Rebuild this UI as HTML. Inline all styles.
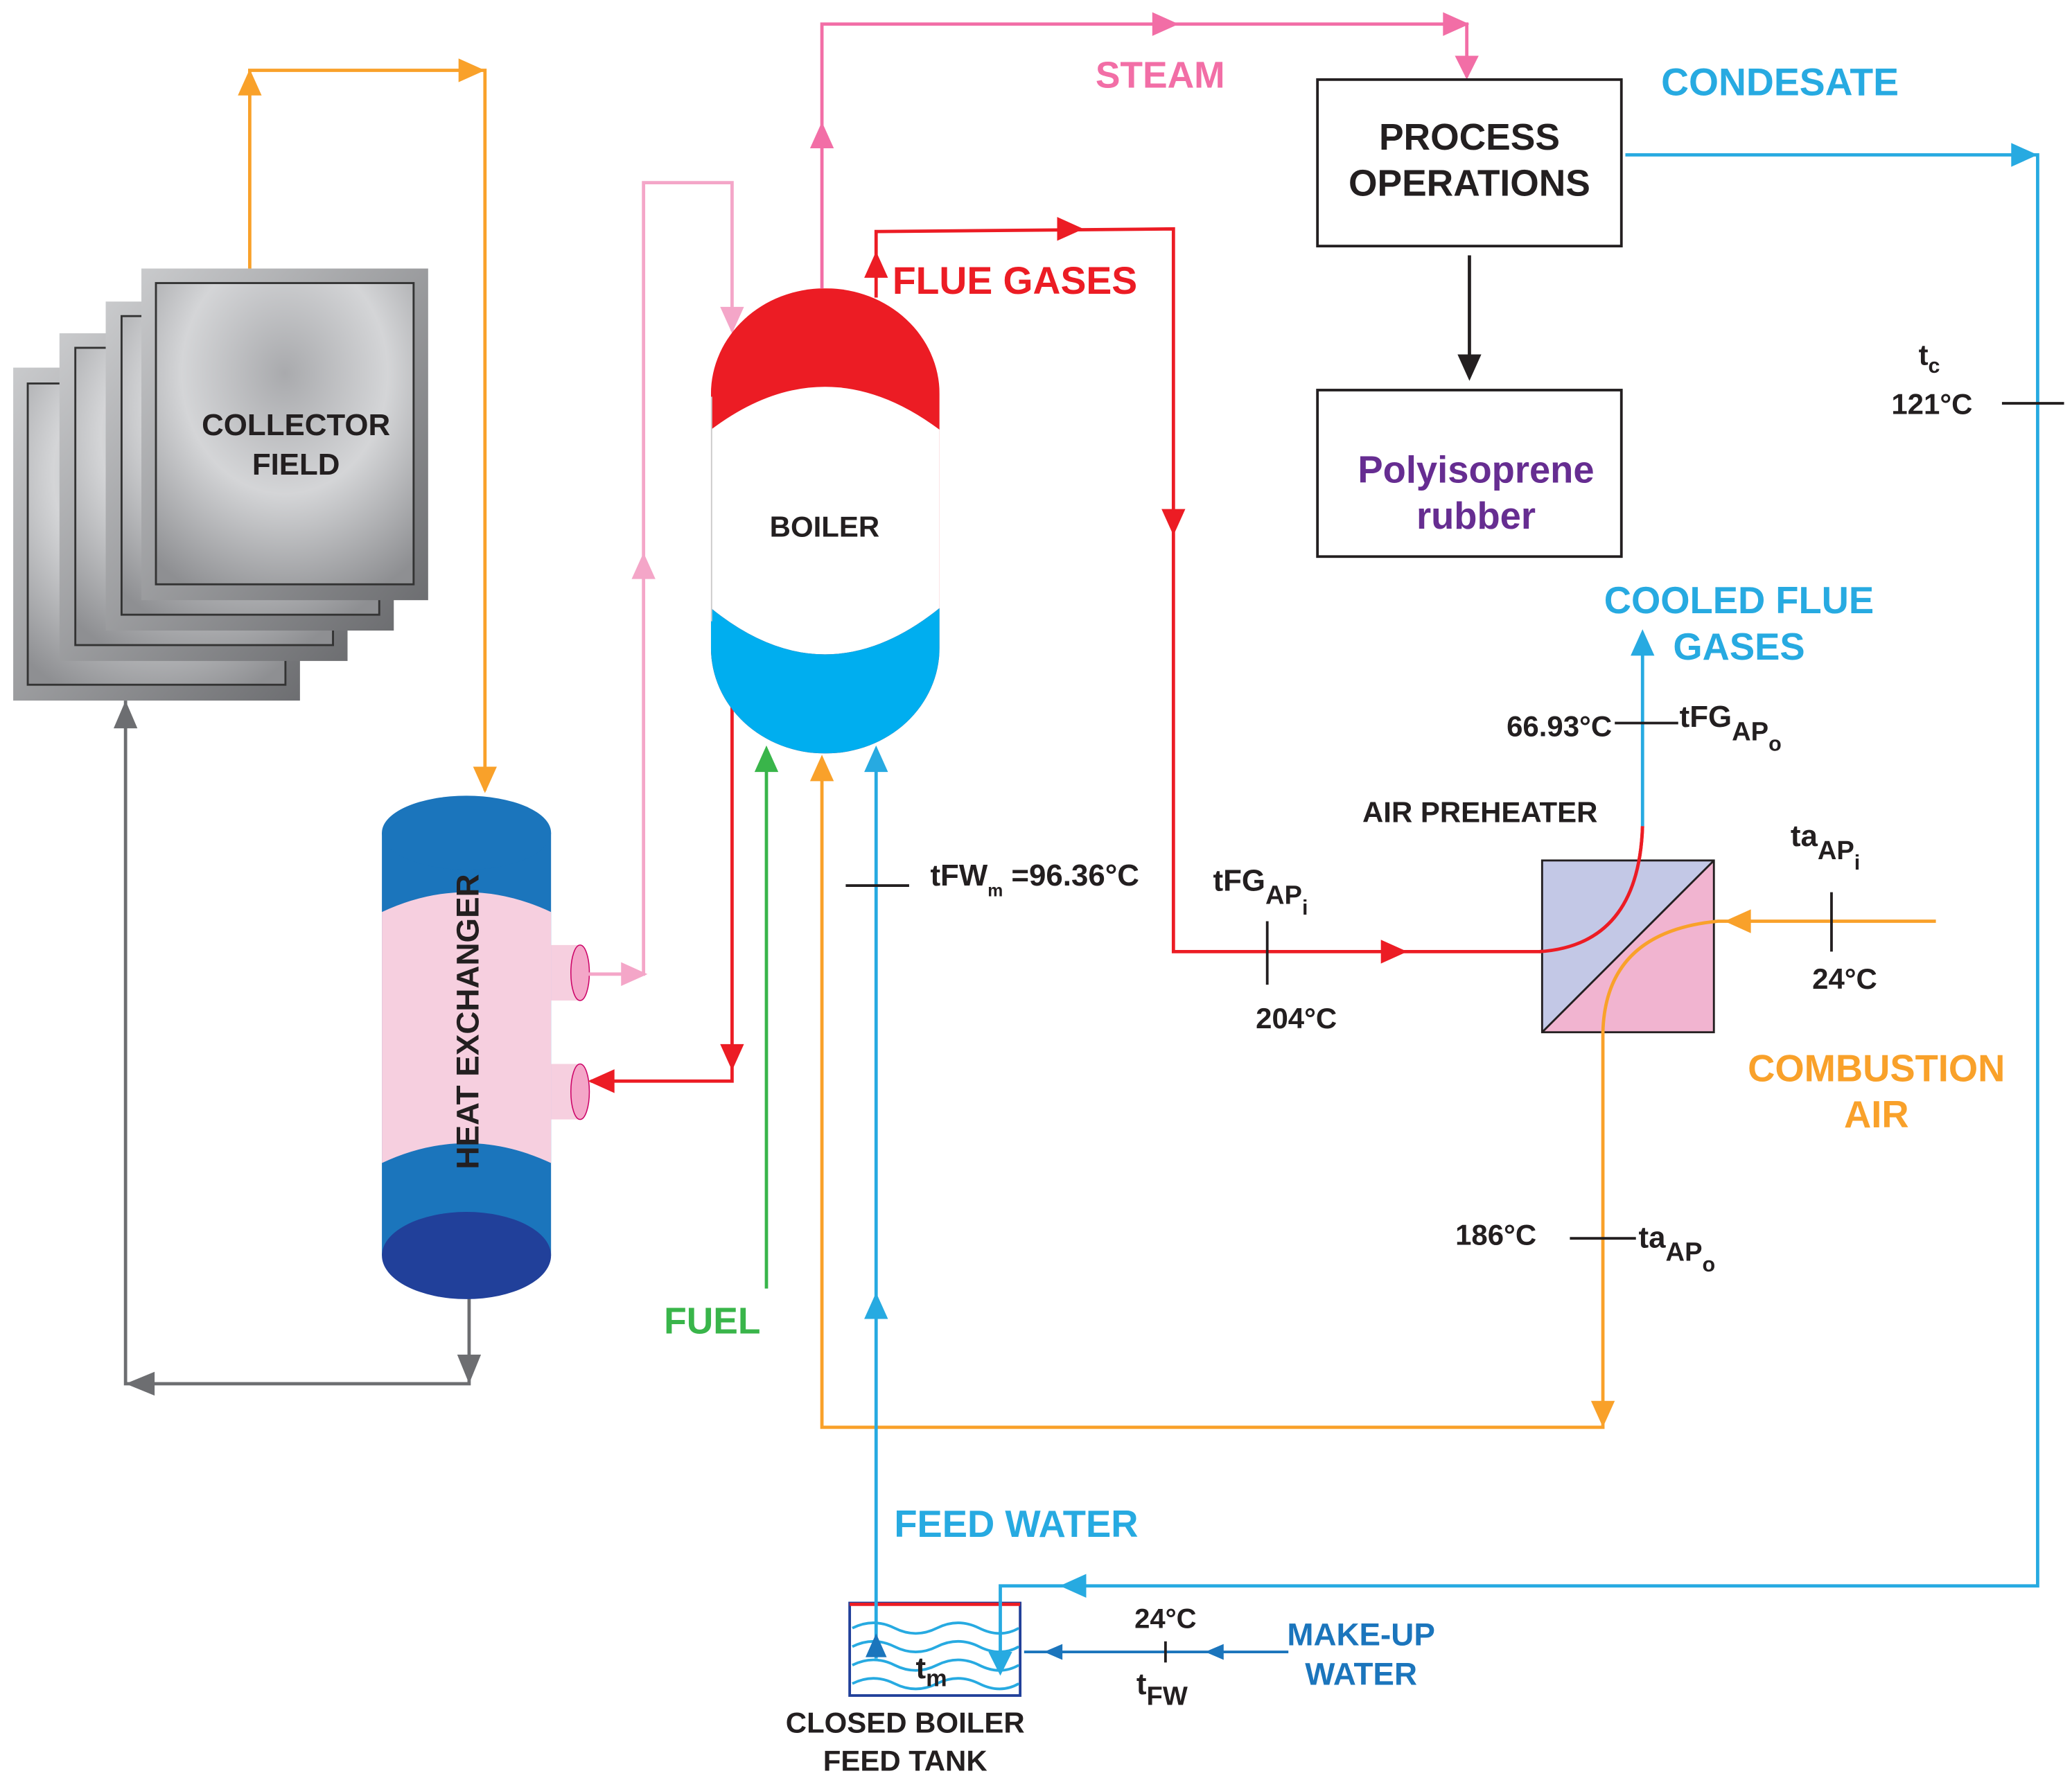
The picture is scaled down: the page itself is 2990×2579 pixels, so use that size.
<!DOCTYPE html>
<html><head><meta charset="utf-8"><style>
html,body{margin:0;padding:0;background:#fff}
svg{display:block}
text{font-family:"Liberation Sans",sans-serif;font-weight:bold}
</style></head><body>
<svg width="2990" height="2579" viewBox="0 0 1568 1352" xmlns="http://www.w3.org/2000/svg">
<defs>
<radialGradient id="pl" cx="0.5" cy="0.3" r="0.8">
<stop offset="0" stop-color="#a9aaad"/><stop offset="0.5" stop-color="#d4d5d7"/><stop offset="1" stop-color="#8e8f92"/></radialGradient>
<linearGradient id="fr" x1="0" y1="0" x2="1" y2="1"><stop offset="0" stop-color="#c9cacc"/><stop offset="1" stop-color="#6d6e71"/></linearGradient>
</defs>
<rect width="1568" height="1352" fill="#fff"/>

<g stroke="#333" stroke-width="1.5">
<rect x="10" y="278" width="217" height="252" fill="url(#fr)" stroke="none"/>
<rect x="21" y="290" width="195" height="228" fill="url(#pl)"/>
<rect x="45" y="252" width="218" height="248" fill="url(#fr)" stroke="none"/>
<rect x="57" y="263" width="195" height="225" fill="url(#pl)"/>
<rect x="80" y="228" width="218" height="249" fill="url(#fr)" stroke="none"/>
<rect x="92" y="239" width="195" height="226" fill="url(#pl)"/>
<rect x="107" y="203" width="217" height="251" fill="url(#fr)" stroke="none"/>
<rect x="118" y="214" width="195" height="228" fill="url(#pl)"/>
</g>
<text x="224" y="329" font-size="23" text-anchor="middle" fill="#231f20">COLLECTOR</text>
<text x="224" y="359" font-size="23" text-anchor="middle" fill="#231f20">FIELD</text>

<polyline points="189,203 189,53 367,53 367,598" fill="none" stroke="#f9a12a" stroke-width="2.5"/>
<g fill="#f9a12a">
<polygon points="189,52 180,72 198,72"/>
<polygon points="367,53 347,44 347,62"/>
<polygon points="367,600 358,580 376,580"/>
</g>

<polyline points="355,980 355,1047 95,1047 95,530" fill="none" stroke="#6d6e71" stroke-width="2.5"/>
<g fill="#6d6e71">
<polygon points="355,1047 346,1025 364,1025"/>
<polygon points="95,1047 117,1038 117,1056"/>
<polygon points="95,530 86,551 104,551"/>
</g>

<rect x="289" y="630" width="128" height="320" fill="#1b75bc"/>
<ellipse cx="353" cy="630" rx="64" ry="28" fill="#1b75bc"/>
<path d="M289,690 Q353,660 417,690 L417,880 Q353,850 289,880 Z" fill="#f6cfdf"/>
<ellipse cx="353" cy="950" rx="64" ry="33" fill="#21409a"/>
<rect x="417" y="715" width="22" height="42" fill="#f6cfdf"/>
<ellipse cx="439" cy="736" rx="7" ry="21" fill="#f4a6c8" stroke="#c06" stroke-width="0.8"/>
<rect x="417" y="805" width="22" height="42" fill="#f6cfdf"/>
<ellipse cx="439" cy="826" rx="7" ry="21" fill="#f4a6c8" stroke="#c06" stroke-width="0.8"/>
<text transform="translate(362,773) rotate(-90)" font-size="24" text-anchor="middle" fill="#231f20">HEAT EXCHANGER</text>

<polyline points="445,737 487,737 487,138 554,138 554,250" fill="none" stroke="#f4a6c8" stroke-width="2.5"/>
<g fill="#f4a6c8">
<polygon points="490,737 470,728 470,746"/>
<polygon points="487,418 478,438 496,438"/>
<polygon points="554,252 545,232 563,232"/>
</g>

<polyline points="554,535 554,818 447,818" fill="none" stroke="#ec1c24" stroke-width="2.5"/>
<g fill="#ec1c24">
<polygon points="554,810 545,790 563,790"/>
<polygon points="445,818 465,809 465,827"/>
</g>

<clipPath id="bc"><rect x="538" y="218" width="173" height="352" rx="86" ry="80"/></clipPath>
<g clip-path="url(#bc)">
<rect x="538" y="218" width="173" height="352" fill="#ec1c24"/>
<path d="M538,325 Q624,260 711,325 L711,460 Q624,530 538,460 Z" fill="#fff"/>
<path d="M538,460 Q624,530 711,460 L711,570 L538,570 Z" fill="#00aeef"/>
</g>
<rect x="538" y="300" width="1" height="170" fill="#ccc"/>
<text x="624" y="406" font-size="22" text-anchor="middle" fill="#231f20">BOILER</text>

<polyline points="622,218 622,18 1110,18 1110,58" fill="none" stroke="#f26ea6" stroke-width="2.5"/>
<g fill="#f26ea6">
<polygon points="622,92 613,112 631,112"/>
<polygon points="892,18 872,9 872,27"/>
<polygon points="1112,18 1092,9 1092,27"/>
<polygon points="1110,60 1101,42 1119,42"/>
</g>
<text x="878" y="66" font-size="28" text-anchor="middle" fill="#f26ea6">STEAM</text>

<path d="M663,225 L663,175 L888,173 L888,720 L1165,720 Q1240,715 1243,625" fill="none" stroke="#ec1c24" stroke-width="2.5"/>
<g fill="#ec1c24">
<polygon points="663,190 654,210 672,210"/>
<polygon points="820,173 800,164 800,182"/>
<polygon points="888,405 879,385 897,385"/>
<polygon points="1065,720 1045,711 1045,729"/>
</g>
<text x="768" y="222" font-size="29" text-anchor="middle" fill="#ec1c24">FLUE GASES</text>

<polygon points="1167,651 1297,651 1167,781" fill="#c3c8e6"/>
<polygon points="1297,651 1297,781 1167,781" fill="#f1b4d0"/>
<rect x="1167" y="651" width="130" height="130" fill="none" stroke="#231f20" stroke-width="1.5"/>
<line x1="1167" y1="781" x2="1297" y2="651" stroke="#231f20" stroke-width="1.5"/>
<path d="M1165,720 Q1240,715 1243,625" fill="none" stroke="#ec1c24" stroke-width="2.5"/>
<line x1="1243" y1="625" x2="1243" y2="480" stroke="#27aae1" stroke-width="2.5"/>
<polygon points="1243,476 1234,496 1252,496" fill="#27aae1"/>
<text x="1316" y="464" font-size="28.5" text-anchor="middle" fill="#27aae1">COOLED FLUE</text>
<text x="1316" y="499" font-size="28.5" text-anchor="middle" fill="#27aae1">GASES</text>
<text x="1120" y="622" font-size="22" text-anchor="middle" fill="#231f20">AIR PREHEATER</text>

<path d="M1465,697 L1300,697 Q1215,705 1213,781 L1213,1080 L622,1080 L622,575" fill="none" stroke="#f9a12a" stroke-width="2.5"/>
<g fill="#f9a12a">
<polygon points="1305,697 1325,688 1325,706"/>
<polygon points="1213,1080 1204,1060 1222,1060"/>
<polygon points="622,571 613,591 631,591"/>
</g>
<text x="1420" y="818" font-size="28.5" text-anchor="middle" fill="#f9a12a">COMBUSTION</text>
<text x="1420" y="853" font-size="28.5" text-anchor="middle" fill="#f9a12a">AIR</text>

<line x1="580" y1="975" x2="580" y2="568" stroke="#39b54a" stroke-width="2.5"/>
<polygon points="580,564 571,584 589,584" fill="#39b54a"/>
<text x="539" y="1009" font-size="28" text-anchor="middle" fill="#39b54a">FUEL</text>

<rect x="643" y="1213" width="129" height="70" fill="#fff" stroke="#21409a" stroke-width="2"/>
<line x1="643" y1="1214" x2="772" y2="1214" stroke="#ec1c24" stroke-width="2.5"/>
<g fill="none" stroke="#27aae1" stroke-width="2">
<path d="M645,1232 q16,-8 32,0 t32,0 t32,0 t30,0"/>
<path d="M645,1246 q16,-8 32,0 t32,0 t32,0 t30,0"/>
<path d="M645,1260 q16,-8 32,0 t32,0 t32,0 t30,0"/>
<path d="M645,1274 q16,-8 32,0 t32,0 t32,0 t30,0"/>
</g>

<line x1="663" y1="1255" x2="663" y2="568" stroke="#27aae1" stroke-width="2.5"/>
<g fill="#27aae1">
<polygon points="663,564 654,584 672,584"/>
<polygon points="663,978 654,998 672,998"/>
<polygon points="663,1236 655,1254 671,1254" fill="#1b75bc"/>
</g>
<text x="769" y="1163" font-size="28.5" text-anchor="middle" fill="#27aae1">FEED WATER</text>

<rect x="997" y="60" width="230" height="126" fill="#fff" stroke="#231f20" stroke-width="2"/>
<text x="1112" y="113" font-size="28" text-anchor="middle" fill="#231f20">PROCESS</text>
<text x="1112" y="148" font-size="28" text-anchor="middle" fill="#231f20">OPERATIONS</text>
<line x1="1112" y1="193" x2="1112" y2="280" stroke="#231f20" stroke-width="2.5"/>
<polygon points="1112,288 1103,268 1121,268" fill="#231f20"/>
<rect x="997" y="295" width="230" height="126" fill="#fff" stroke="#231f20" stroke-width="2"/>
<text x="1117" y="365" font-size="28.5" text-anchor="middle" fill="#662d91">Polyisoprene</text>
<text x="1117" y="400" font-size="28.5" text-anchor="middle" fill="#662d91">rubber</text>

<polyline points="1230,117 1542,117 1542,1200 757,1200 757,1265" fill="none" stroke="#27aae1" stroke-width="2.5"/>
<g fill="#27aae1">
<polygon points="1542,117 1522,108 1522,126"/>
<polygon points="802,1200 822,1191 822,1209"/>
<polygon points="757,1268 748,1250 766,1250"/>
</g>
<text x="1347" y="72" font-size="29" text-anchor="middle" fill="#27aae1">CONDESATE</text>
<text x="1460" y="276" font-size="22" text-anchor="middle" fill="#231f20">t<tspan font-size="16" dy="6">c</tspan></text>
<text x="1462" y="313" font-size="22" text-anchor="middle" fill="#231f20">121°C</text>
<line x1="1515" y1="305" x2="1562" y2="305" stroke="#231f20" stroke-width="2"/>

<text x="1180" y="557" font-size="22" text-anchor="middle" fill="#231f20">66.93°C</text>
<line x1="1222" y1="547" x2="1270" y2="547" stroke="#231f20" stroke-width="2"/>
<text x="1271" y="550" font-size="23" fill="#231f20">t<tspan>FG</tspan><tspan font-size="20" dy="10">AP</tspan><tspan font-size="16" dy="8">o</tspan></text>
<text x="918" y="674" font-size="23" fill="#231f20">t<tspan>FG</tspan><tspan font-size="20" dy="10">AP</tspan><tspan font-size="16" dy="8">i</tspan></text>
<line x1="959" y1="697" x2="959" y2="745" stroke="#231f20" stroke-width="2"/>
<text x="981" y="778" font-size="22" text-anchor="middle" fill="#231f20">204°C</text>
<text x="1355" y="640" font-size="23" fill="#231f20">t<tspan>a</tspan><tspan font-size="20" dy="10">AP</tspan><tspan font-size="16" dy="8">i</tspan></text>
<line x1="1386" y1="675" x2="1386" y2="720" stroke="#231f20" stroke-width="2"/>
<text x="1396" y="748" font-size="22" text-anchor="middle" fill="#231f20">24°C</text>
<text x="1132" y="942" font-size="22" text-anchor="middle" fill="#231f20">186°C</text>
<line x1="1188" y1="937" x2="1238" y2="937" stroke="#231f20" stroke-width="2"/>
<text x="1240" y="944" font-size="23" fill="#231f20">t<tspan>a</tspan><tspan font-size="20" dy="10">AP</tspan><tspan font-size="16" dy="8">o</tspan></text>
<line x1="640" y1="670" x2="688" y2="670" stroke="#231f20" stroke-width="2"/>
<text x="704" y="670" font-size="23" fill="#231f20">t<tspan>FW</tspan><tspan font-size="13" dy="8">m</tspan><tspan dy="-8"> =96.36°C</tspan></text>

<text x="693" y="1270" font-size="23" fill="#231f20">t<tspan font-size="18" dy="6">m</tspan></text>
<text x="685" y="1311" font-size="22" text-anchor="middle" fill="#231f20">CLOSED BOILER</text>
<text x="685" y="1340" font-size="22" text-anchor="middle" fill="#231f20">FEED TANK</text>

<line x1="975" y1="1250" x2="775" y2="1250" stroke="#1b75bc" stroke-width="2"/>
<g fill="#1b75bc">
<polygon points="912,1250 926,1244 926,1256"/>
<polygon points="790,1250 804,1244 804,1256"/>
</g>
<line x1="882" y1="1242" x2="882" y2="1258" stroke="#231f20" stroke-width="2"/>
<text x="882" y="1232" font-size="21" text-anchor="middle" fill="#231f20">24°C</text>
<text x="860" y="1282" font-size="23" fill="#231f20">t<tspan font-size="20" dy="8">FW</tspan></text>
<text x="1030" y="1245" font-size="24" text-anchor="middle" fill="#1b75bc">MAKE-UP</text>
<text x="1030" y="1275" font-size="24" text-anchor="middle" fill="#1b75bc">WATER</text>
</svg>
</body></html>
